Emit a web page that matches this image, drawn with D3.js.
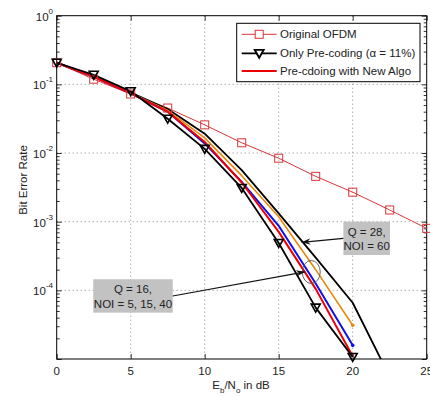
<!DOCTYPE html>
<html><head><meta charset="utf-8">
<script src="https://cdn.jsdelivr.net/npm/d3@7"></script>
<style>
body{margin:0;background:#fff;}
svg{display:block;font-family:"Liberation Sans",Arial,sans-serif;}
</style></head>
<body><svg id="c" width="430" height="396"></svg>
<script>
// ---- data ----
const snr = [0, 2.5, 5, 7.5, 10, 12.5, 15, 17.5, 20, 22.5, 25];
const berOriginal = [0.2065, 0.119, 0.0724, 0.0452, 0.0257, 0.0141, 0.0084, 0.00457, 0.00269, 0.00148, 0.0008];
const berPrecoding = [0.2065, 0.138, 0.0794, 0.0316, 0.0115, 0.0031, 0.00049, 5.6e-5, 1.07e-5];
const berQ28 = [0.2065, 0.1318, 0.0759, 0.0437, 0.0191, 0.00562, 0.00132, 3.0e-4, 6.6e-5, 5.5e-6];
const berQ16a = [0.2065, 0.1303, 0.0750, 0.0417, 0.0166, 0.00468, 0.00118, 2.0e-4, 3.1e-5];
const berQ16b = [0.2065, 0.129, 0.0741, 0.0398, 0.0138, 0.00380, 8.7e-4, 1.26e-4, 1.58e-5];
const berNewAlgo = [0.2065, 0.129, 0.0741, 0.0398, 0.0145, 0.00372, 7.1e-4, 1.05e-4, 1.1e-5];
const xTicks = [0, 5, 10, 15, 20, 25];
const yTickExp = [0, -1, -2, -3, -4];
const legendLabels = ["Original OFDM", "Only Pre-coding (\u03b1 = 11%)", "Pre-cdoing with New Algo"];
const noteQ28 = ["Q = 28,", "NOI = 60"];
const noteQ16 = ["Q = 16,", "NOI = 5, 15, 40"];
// annotation anchors in data units [dB, BER]
const q28Box = [[19.37, 1.0e-3], [22.52, 3.27e-4]];
const q28Tip = [16.55, 5.0e-4];
const q16Box = [[2.47, 1.45e-4], [7.84, 4.73e-5]];
const q16Tip = [16.78, 1.86e-4];
const ellipseCenter = [17.2, 1.85e-4];

// ---- layout ----
const svg = d3.select("#c");
const L = 56.7, R = 426.7, T = 15.7, B = 359;
const x = d3.scaleLinear().domain([0, 25]).range([L, R]);
const y = d3.scaleLog().domain([1e-5, 1]).range([B, T]);

svg.append("defs").append("clipPath").attr("id", "clip")
  .append("rect").attr("x", L).attr("y", T).attr("width", R - L).attr("height", B - T);

// grid
const grid = svg.append("g").attr("stroke", "#8a8a8a").attr("stroke-dasharray", "1,3").attr("stroke-width", 1);
xTicks.filter(v => v > 0 && v < 25).forEach(v => {
  grid.append("line").attr("x1", x(v)).attr("x2", x(v)).attr("y1", T).attr("y2", B);
});
yTickExp.filter(e => e < 0).forEach(e => {
  const v = Math.pow(10, e);
  grid.append("line").attr("x1", L).attr("x2", R).attr("y1", y(v)).attr("y2", y(v));
});

// axes via d3
const fmt = () => "";
svg.append("g").attr("transform", `translate(0,${B})`)
  .call(d3.axisBottom(x).tickValues(xTicks).tickSize(-5).tickFormat(fmt))
  .call(g => { g.select(".domain").remove(); });
svg.append("g").attr("transform", `translate(0,${T})`)
  .call(d3.axisTop(x).tickValues(xTicks).tickSize(-5).tickFormat(fmt))
  .call(g => { g.select(".domain").remove(); });
const allY = y.ticks();
const majorY = allY.filter(v => Math.abs(Math.log10(v) - Math.round(Math.log10(v))) < 1e-9);
const minorY = allY.filter(v => !majorY.includes(v));
[[d3.axisLeft, L, 1], [d3.axisRight, R, 1]].forEach(([ax, pos]) => {
  svg.append("g").attr("transform", `translate(${pos},0)`)
    .call(ax(y).tickValues(majorY).tickSize(-5).tickFormat(fmt))
    .call(g => g.select(".domain").remove());
  svg.append("g").attr("transform", `translate(${pos},0)`)
    .call(ax(y).tickValues(minorY).tickSize(-3).tickFormat(fmt))
    .call(g => g.select(".domain").remove());
});
svg.selectAll(".tick line").attr("stroke", "#000").attr("stroke-width", 0.8);
svg.append("rect").attr("x", L).attr("y", T).attr("width", R - L).attr("height", B - T)
  .attr("fill", "none").attr("stroke", "#000").attr("stroke-width", 1);

// tick labels
const tl = svg.append("g").attr("font-size", 11.5).attr("fill", "#222");
xTicks.forEach(v => {
  tl.append("text").attr("x", x(v)).attr("y", B + 16).attr("text-anchor", "middle").text(v);
});
yTickExp.forEach(e => {
  const t = tl.append("text").attr("x", 53).attr("y", y(Math.pow(10, e)) + 5).attr("text-anchor", "end");
  t.append("tspan").text("10");
  t.append("tspan").attr("dy", -7).attr("font-size", 8).text(e);
});

// axis titles
svg.append("text").attr("transform", `translate(27,180) rotate(-90)`).attr("text-anchor", "middle")
  .attr("font-size", 11.5).attr("fill", "#222").text("Bit Error Rate");
const xt = svg.append("text").attr("x", 241).attr("y", 389).attr("text-anchor", "middle")
  .attr("font-size", 11.5).attr("fill", "#222");
xt.append("tspan").text("E");
xt.append("tspan").attr("dy", 4).attr("font-size", 8).text("b");
xt.append("tspan").attr("dy", -4).text("/N");
xt.append("tspan").attr("dy", 4).attr("font-size", 8).text("o");
xt.append("tspan").attr("dy", -4).text(" in dB");

// lines
const line = d3.line().x(d => x(d[0])).y(d => y(d[1]));
const plot = svg.append("g").attr("clip-path", "url(#clip)");
function series(vals, color, w) {
  const pts = vals.map((v, i) => [snr[i], v]);
  plot.append("path").datum(pts).attr("d", line).attr("fill", "none")
    .attr("stroke", color).attr("stroke-width", w).attr("stroke-linejoin", "round");
  return pts;
}
const ptsOrig = series(berOriginal, "#d9363a", 1);
series(berQ28, "#000", 1.8);
const ptsA = series(berQ16a, "#e8890c", 1.6);
const ptsB = series(berQ16b, "#1010e8", 2);
series(berNewAlgo, "#ee0000", 2);
const ptsP = series(berPrecoding, "#000", 1.8);

// markers
const sq = 8;
svg.append("g").selectAll("rect").data(ptsOrig).join("rect")
  .attr("x", d => x(d[0]) - sq / 2).attr("y", d => y(d[1]) - sq / 2)
  .attr("width", sq).attr("height", sq).attr("fill", "none").attr("stroke", "#d9363a").attr("stroke-width", 1);
const tri = "M-4.5,-3.5L4.5,-3.5L0,4.5Z";
svg.append("g").selectAll("path").data(ptsP).join("path")
  .attr("d", tri).attr("transform", d => `translate(${x(d[0])},${y(d[1])})`)
  .attr("fill", "none").attr("stroke", "#000").attr("stroke-width", 1.6);
// small end markers on orange & blue
svg.append("circle").attr("cx", x(ptsA[8][0])).attr("cy", y(ptsA[8][1])).attr("r", 1.8).attr("fill", "#e8890c");
svg.append("circle").attr("cx", x(ptsB[8][0])).attr("cy", y(ptsB[8][1])).attr("r", 1.8).attr("fill", "#1010e8");

// annotations
function arrow(x1, y1, x2, y2) {
  svg.append("line").attr("x1", x1).attr("y1", y1).attr("x2", x2).attr("y2", y2)
    .attr("stroke", "#111").attr("stroke-width", 1.1);
  const a = Math.atan2(y2 - y1, x2 - x1), s = 9, h = 3.2;
  const bx = x2 - s * Math.cos(a), by = y2 - s * Math.sin(a);
  svg.append("path").attr("d",
    `M${x2},${y2}L${bx + h * Math.sin(a)},${by - h * Math.cos(a)}L${bx + 3 * Math.cos(a)},${by + 3 * Math.sin(a)}L${bx - h * Math.sin(a)},${by + h * Math.cos(a)}Z`)
    .attr("fill", "#111");
}
function box(b, lines) {
  const x0 = x(b[0][0]), x1 = x(b[1][0]), y0 = y(b[0][1]), y1 = y(b[1][1]);
  svg.append("rect").attr("x", x0).attr("y", y0).attr("width", x1 - x0).attr("height", y1 - y0).attr("fill", "#c2c2c2");
  const cx = (x0 + x1) / 2, h = y1 - y0;
  lines.forEach((t, i) => {
    svg.append("text").attr("x", cx).attr("y", y0 + h * (i === 0 ? 0.42 : 0.85)).attr("text-anchor", "middle")
      .attr("font-size", 11.5).attr("fill", "#222").text(t);
  });
  return [x0, x1, y0, y1];
}
svg.append("ellipse").attr("cx", x(ellipseCenter[0])).attr("cy", y(ellipseCenter[1])).attr("rx", 9).attr("ry", 11.5)
  .attr("fill", "none").attr("stroke", "#555").attr("stroke-width", 0.9);
const b28 = box(q28Box, noteQ28);
arrow(b28[0], (b28[2] + b28[3]) / 2, x(q28Tip[0]), y(q28Tip[1]));
const b16 = box(q16Box, noteQ16);
arrow(b16[1], b16[2] + (b16[3] - b16[2]) * 0.5, x(q16Tip[0]), y(q16Tip[1]));

// legend
const lg = svg.append("g");
lg.append("rect").attr("x", 236.7).attr("y", 23.3).attr("width", 183.3).attr("height", 58.4)
  .attr("fill", "#fff").attr("stroke", "#000").attr("stroke-width", 1);
const ly = [34.3, 53.3, 71];
const lstyle = [["#d9363a", 1], ["#000", 1.8], ["#ee0000", 2]];
legendLabels.forEach((t, i) => {
  lg.append("line").attr("x1", 241.7).attr("x2", 276.7).attr("y1", ly[i]).attr("y2", ly[i])
    .attr("stroke", lstyle[i][0]).attr("stroke-width", lstyle[i][1]);
  lg.append("text").attr("x", 280).attr("y", ly[i] + 4).attr("font-size", 11.5).attr("fill", "#222").text(t);
});
lg.append("rect").attr("x", 259.2 - sq / 2).attr("y", ly[0] - sq / 2).attr("width", sq).attr("height", sq)
  .attr("fill", "#fff").attr("stroke", "#d9363a");
lg.append("path").attr("d", tri).attr("transform", `translate(259.2,${ly[1]})`)
  .attr("fill", "#fff").attr("stroke", "#000").attr("stroke-width", 1.8);
</script></body></html>
